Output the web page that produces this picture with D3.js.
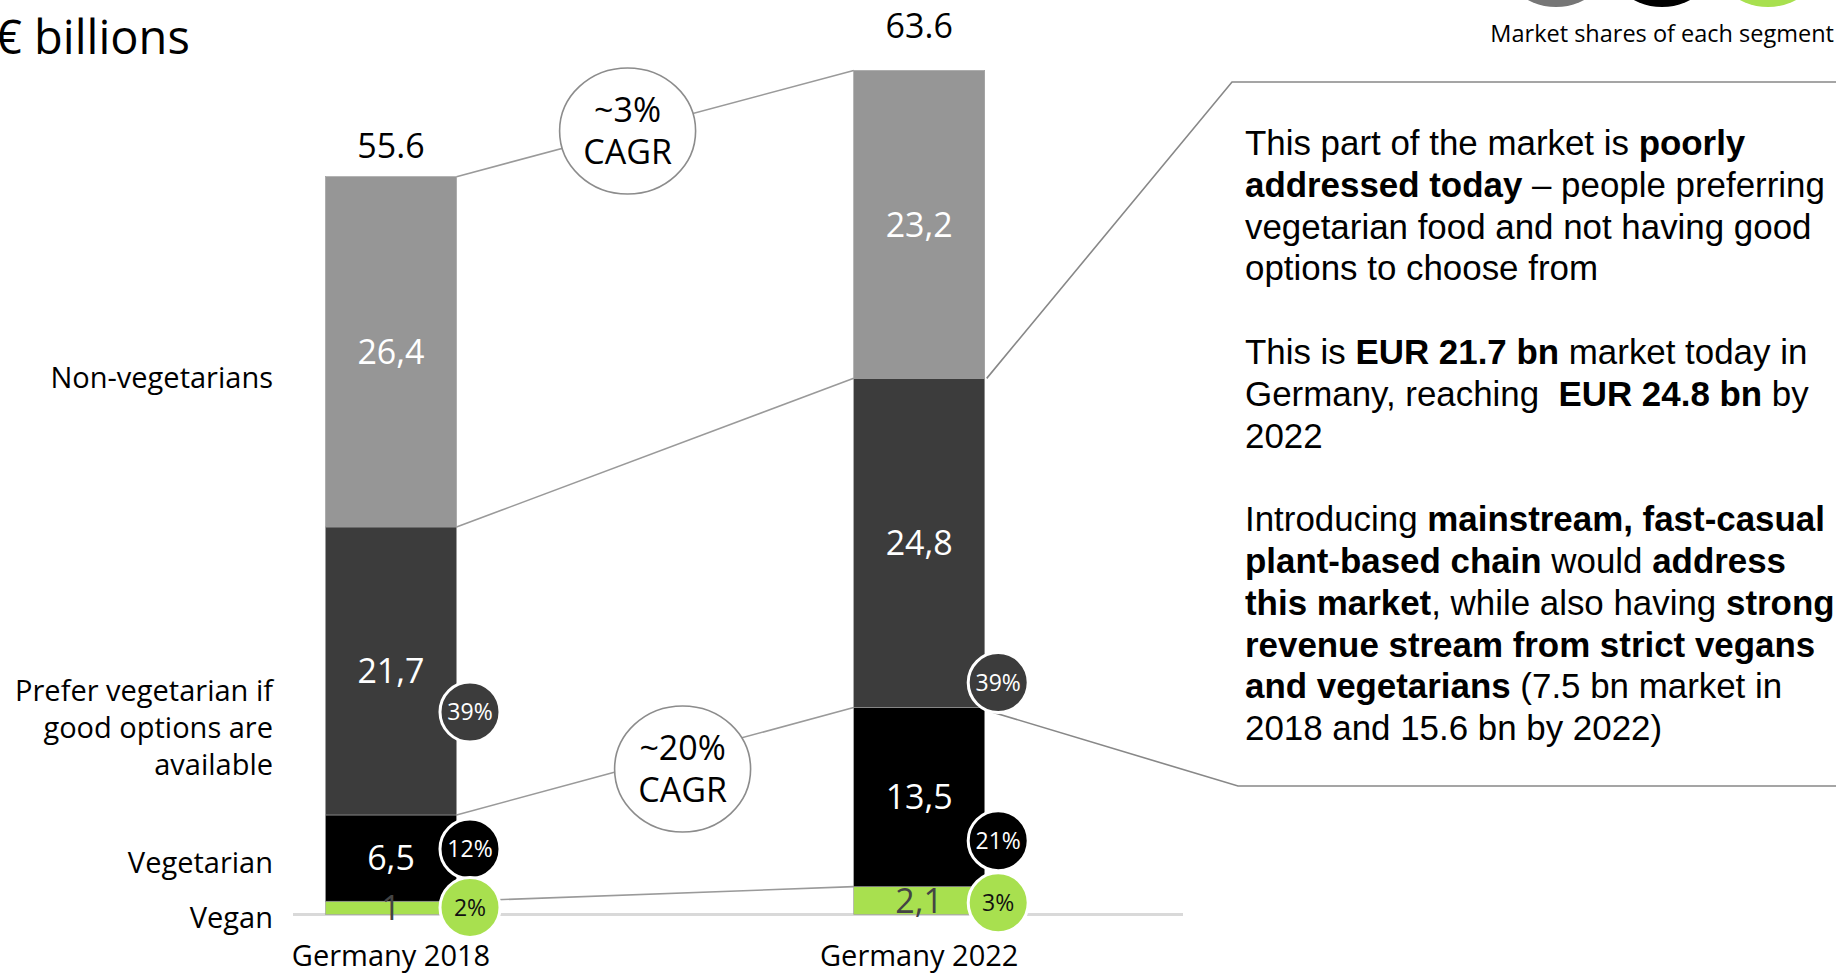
<!DOCTYPE html>
<html>
<head>
<meta charset="utf-8">
<script src="https://cdn.jsdelivr.net/npm/d3@7"></script>
<style>
  html, body { margin: 0; padding: 0; background: #fff; overflow: hidden; }
  svg { display: block; font-family: "Open Sans", sans-serif; }
  .note { font-family: "Liberation Sans", Arial, sans-serif; white-space: pre; }
</style>
</head>
<body>
<div id="chart"></div>
<script>
// market size, EUR billions
const categories = ["Germany 2018", "Germany 2022"];
const segmentKeys = ["vegan", "vegetarian", "prefer", "nonVeg"];
const segmentNames = ["Vegan", "Vegetarian", "Prefer vegetarian if|good options are|available", "Non-vegetarians"];
const vegan = [1, 2.1];
const vegetarian = [6.5, 13.5];
const preferVeg = [21.7, 24.8];
const nonVeg = [26.4, 23.2];
const totals = [55.6, 63.6];

// market share badges
const shareVegan = ["2%", "3%"];
const shareVegetarian = ["12%", "21%"];
const sharePrefer = ["39%", "39%"];

const cagrLabels = [["~3%", "CAGR"], ["~20%", "CAGR"]];

const noteLines = [
    [["This part of the market is ", 0], ["poorly", 1]],
    [["addressed today", 1], [" – people preferring", 0]],
    [["vegetarian food and not having good", 0]],
    [["options to choose from", 0]],
    [],
    [["This is ", 0], ["EUR 21.7 bn", 1], [" market today in", 0]],
    [["Germany, reaching  ", 0], ["EUR 24.8 bn", 1], [" by", 0]],
    [["2022", 0]],
    [],
    [["Introducing ", 0], ["mainstream, fast-casual", 1]],
    [["plant-based chain", 1], [" would ", 0], ["address", 1]],
    [["this market", 1], [", while also having ", 0], ["strong", 1]],
    [["revenue stream from strict vegans", 1]],
    [["and vegetarians", 1], [" (7.5 bn market in", 0]],
    [["2018 and 15.6 bn by 2022)", 0]]
];

const colors = { vegan: "#a8e04f", vegetarian: "#000000", prefer: "#3c3c3c", nonVeg: "#969696" };
const labelColors = { vegan: "#444", vegetarian: "#fff", prefer: "#fff", nonVeg: "#fff" };

const width = 1836, height = 974;

const svg = d3.select("#chart").append("svg")
    .attr("width", width)
    .attr("height", height);

const x = d3.scaleBand()
    .domain(categories)
    .range([325.5, 984.7])
    .paddingInner(0.752)
    .paddingOuter(0);

const y = d3.scaleLinear()
    .domain([0, 63.6])
    .range([914.5, 70.5]);

const rows = categories.map((c, i) => ({
    cat: c, vegan: vegan[i], vegetarian: vegetarian[i], prefer: preferVeg[i], nonVeg: nonVeg[i]
}));
const stacked = d3.stack().keys(segmentKeys)(rows);
const seg = k => stacked[segmentKeys.indexOf(k)];
const right = c => x(c) + x.bandwidth();

// title (the euro sign is clipped at the left edge, as in the source slide)
svg.append("text")
    .attr("x", -5).attr("y", 54)
    .attr("font-size", 47)
    .text("€ billions");

// axis baseline
svg.append("line")
    .attr("x1", 293).attr("x2", 1183)
    .attr("y1", y(0)).attr("y2", y(0))
    .attr("stroke", "#d9d9d9").attr("stroke-width", 3);

// connector lines between bars (segment boundaries)
const lines = svg.append("g").attr("stroke", "#9a9a9a").attr("stroke-width", 1.6).attr("fill", "none");
["nonVeg", "prefer", "vegetarian", "vegan"].forEach(k => {
    const s = seg(k);
    lines.append("line")
        .attr("x1", right(categories[0])).attr("y1", y(s[0][1]))
        .attr("x2", x(categories[1])).attr("y2", y(s[1][1]));
});

// callout box around the "prefer" segment of 2022
const c2 = categories[1];
const pSeg = seg("prefer")[1];
const box = svg.append("g").attr("stroke", "#888").attr("stroke-width", 1.6).attr("fill", "none");
box.append("polyline")
    .attr("points", [[right(c2) + 2, y(pSeg[1])], [1232, 82], [width, 82]].join(" "));
box.append("polyline")
    .attr("points", [[right(c2) + 2, y(pSeg[0]) + 3], [1238, 786], [width, 786]].join(" "));

// bars
const layers = svg.append("g").selectAll("g")
    .data(stacked)
    .join("g")
    .attr("fill", d => colors[d.key]);

layers.selectAll("rect")
    .data(d => d)
    .join("rect")
    .attr("x", d => x(d.data.cat))
    .attr("y", d => y(d[1]))
    .attr("width", x.bandwidth())
    .attr("height", d => y(d[0]) - y(d[1]))
    .attr("stroke", "#9a9a9a")
    .attr("stroke-width", 0.6);

// segment value labels
stacked.forEach(layer => {
    svg.append("g").selectAll("text")
        .data(layer)
        .join("text")
        .attr("x", d => x(d.data.cat) + x.bandwidth() / 2)
        .attr("y", d => y((d[0] + d[1]) / 2))
        .attr("dy", "0.36em")
        .attr("text-anchor", "middle")
        .attr("font-size", 34)
        .attr("fill", labelColors[layer.key])
        .text(d => String(d.data[layer.key]).replace(".", ","));
});

// totals on top
const totalGap = [19, 33];
svg.append("g").selectAll("text")
    .data(categories)
    .join("text")
    .attr("x", c => x(c) + x.bandwidth() / 2)
    .attr("y", (c, i) => y(totals[i]) - totalGap[i])
    .attr("text-anchor", "middle")
    .attr("font-size", 34)
    .text((c, i) => totals[i]);

// x labels
svg.append("g").selectAll("text")
    .data(categories)
    .join("text")
    .attr("x", c => x(c) + x.bandwidth() / 2)
    .attr("y", 966)
    .attr("text-anchor", "middle")
    .attr("font-size", 29)
    .text(c => c);

// segment names on the left
const nameNudge = [10, 4, 57, 26];
segmentKeys.forEach((k, i) => {
    const s = seg(k)[0];
    const lns = segmentNames[i].split("|");
    const cy = y((s[0] + s[1]) / 2) + nameNudge[i];
    const t = svg.append("text")
        .attr("text-anchor", "end")
        .attr("font-size", 29);
    lns.forEach((ln, j) => {
        t.append("tspan")
            .attr("x", 273)
            .attr("y", cy + (j - (lns.length - 1) / 2) * 37)
            .attr("dy", "0.36em")
            .text(ln);
    });
});

// market share badges (placed beside each bar, in value units)
const badgeAt = { prefer: [15.26, 17.48], vegetarian: [4.94, 5.56], vegan: [0.53, 0.88] };
const badgeText = { prefer: sharePrefer, vegetarian: shareVegetarian, vegan: shareVegan };
const badgeFill = { prefer: "#3c3c3c", vegetarian: "#000", vegan: "#a8e04f" };
["prefer", "vegetarian", "vegan"].forEach(k => {
    const g = svg.append("g").selectAll("g")
        .data(categories)
        .join("g")
        .attr("transform", (c, i) => `translate(${right(c) + 13.5},${y(badgeAt[k][i])})`);
    g.append("circle")
        .attr("r", 30)
        .attr("fill", badgeFill[k])
        .attr("stroke", "#fff")
        .attr("stroke-width", 3);
    g.append("text")
        .attr("text-anchor", "middle")
        .attr("dy", "0.36em")
        .attr("font-size", 23)
        .attr("fill", k === "vegan" ? "#111" : "#fff")
        .text((c, i) => badgeText[k][i]);
});

// CAGR bubbles sitting on the connector lines
const cagrAt = [[627.6, 131], [682.6, 769]];
cagrLabels.forEach((lb, i) => {
    const g = svg.append("g").attr("transform", `translate(${cagrAt[i][0]},${cagrAt[i][1]})`);
    g.append("ellipse")
        .attr("rx", 68).attr("ry", 63)
        .attr("fill", "#fff")
        .attr("stroke", "#8c8c8c")
        .attr("stroke-width", 1.6);
    g.append("text").attr("text-anchor", "middle").attr("y", -9).attr("font-size", 34).text(lb[0]);
    g.append("text").attr("text-anchor", "middle").attr("y", 33).attr("font-size", 34).text(lb[1]);
});

// legend (circles cut at top edge)
const legendFill = ["#767676", "#000", "#a8e04f"];
svg.append("g").selectAll("circle")
    .data(legendFill)
    .join("circle")
    .attr("cx", (d, i) => 1556 + i * 106)
    .attr("cy", -53)
    .attr("r", 60)
    .attr("fill", d => d);
svg.append("text")
    .attr("x", 1834).attr("y", 42)
    .attr("text-anchor", "end")
    .attr("font-size", 23.5)
    .text("Market shares of each segment");

// commentary text
const note = svg.append("text")
    .attr("class", "note")
    .attr("font-size", 34.9)
    .attr("fill", "#000");
noteLines.forEach((ln, i) => {
    ln.forEach((part, j) => {
        const ts = note.append("tspan")
            .attr("font-weight", part[1] ? "bold" : "normal")
            .text(part[0]);
        if (j === 0) ts.attr("x", 1245).attr("y", 155 + i * 41.8);
    });
});
</script>
</body>
</html>
